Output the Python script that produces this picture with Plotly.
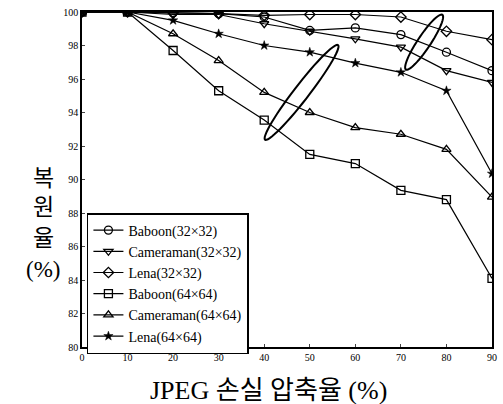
import numpy as np
import plotly.graph_objects as go

x_vals = [0, 10, 20, 30, 40, 50, 60, 70, 80, 90]

baboon32 = [100, 100, 99.95, 99.9, 99.7, 98.9, 99.05, 98.65, 97.6, 96.5]
camera32 = [100, 100, 99.85, 99.85, 99.3, 98.85, 98.4, 97.9, 96.5, 95.8]
lena32 = [100, 100, 99.95, 99.9, 99.8, 99.85, 99.85, 99.7, 98.85, 98.35]
baboon64 = [100, 100, 97.7, 95.3, 93.55, 91.5, 90.95, 89.35, 88.8, 84.1]
camera64 = [100, 100, 98.7, 97.1, 95.2, 94.0, 93.1, 92.7, 91.8, 88.95]
lena64 = [100, 100, 99.5, 98.7, 98.0, 97.6, 96.95, 96.4, 95.3, 90.35]

names = ["Baboon(32×32)", "Cameraman(32×32)", "Lena(32×32)",
         "Baboon(64×64)", "Cameraman(64×64)", "Lena(64×64)"]
series = [baboon32, camera32, lena32, baboon64, camera64, lena64]
symbols = ["circle-open", "triangle-down-open", "diamond-open",
           "square-open", "triangle-up-open", "star"]

y_ticks = list(range(80, 101, 2))
x_ticks = list(range(0, 91, 10))
y_label_parts = ["복", "원", "율", "(%)"]

FONT = "Liberation Serif, Times New Roman, Noto Sans CJK KR, serif"

fig = go.Figure()
for name, ys, sym in zip(names, series, symbols):
    fig.add_trace(go.Scatter(
        x=x_vals, y=ys, name=name, mode="lines+markers",
        line=dict(color="black", width=1.2),
        marker=dict(symbol=sym, size=8 if sym != "star" else 7, color="black",
                    line=dict(color="black", width=1.3 if sym != "star" else 0.5)),
    ))

# rotated ellipse annotations (computed in pixel-proportional space)
px_x = 10 / 46.1
px_y = 2 / 33.5

def ellipse_path(cx, cy, a, b, ang_deg, n=60):
    t = np.linspace(0, 2 * np.pi, n)
    ang = np.deg2rad(ang_deg)
    ex = a * np.cos(t)
    ey = b * np.sin(t)
    rx = ex * np.cos(ang) - ey * np.sin(ang)
    ry = ex * np.sin(ang) + ey * np.cos(ang)
    xs = cx + rx * px_x
    ys = cy + ry * px_y
    path = "M " + " L ".join(f"{a_:.4f},{b_:.4f}" for a_, b_ in zip(xs, ys)) + " Z"
    return path

fig.add_shape(type="path", path=ellipse_path(48.2, 95.2, 60, 7.5, 52),
              line=dict(color="black", width=2), xref="x", yref="y")
fig.add_shape(type="path", path=ellipse_path(75.1, 98.2, 33, 6.5, 56),
              line=dict(color="black", width=2), xref="x", yref="y")

fig.update_layout(
    width=503, height=404,
    margin=dict(l=82, r=6, t=12, b=57),
    paper_bgcolor="white", plot_bgcolor="white",
    font=dict(family=FONT, color="black"),
    showlegend=True,
    legend=dict(x=0.012, y=0.40, xanchor="left", yanchor="top",
                bordercolor="black", borderwidth=1.5, bgcolor="white",
                font=dict(size=14, family=FONT), tracegroupgap=0,
                itemwidth=30),
    xaxis=dict(range=[0, 90], tickvals=x_ticks, ticks="inside", ticklen=3,
               showgrid=False, zeroline=False, showline=True, mirror=True,
               linecolor="black", linewidth=1.5,
               tickfont=dict(size=10, family=FONT)),
    yaxis=dict(range=[80, 100], tickvals=y_ticks, ticks="inside", ticklen=3,
               showgrid=False, zeroline=False, showline=True, mirror=True,
               linecolor="black", linewidth=1.5,
               tickfont=dict(size=10, family=FONT)),
)

fig.add_annotation(text="JPEG 손실 압축율 (%)", xref="paper", yref="paper",
                   x=0.455, y=-0.08, xanchor="center", yanchor="top",
                   showarrow=False, font=dict(size=26, family=FONT))
for part, py in zip(y_label_parts, [0.504, 0.415, 0.325, 0.23]):
    fig.add_annotation(text=part, xref="paper", yref="paper",
                       x=-0.094, y=py, xanchor="center", yanchor="middle",
                       showarrow=False, font=dict(size=23, family=FONT))

fig.write_html("out.html")
